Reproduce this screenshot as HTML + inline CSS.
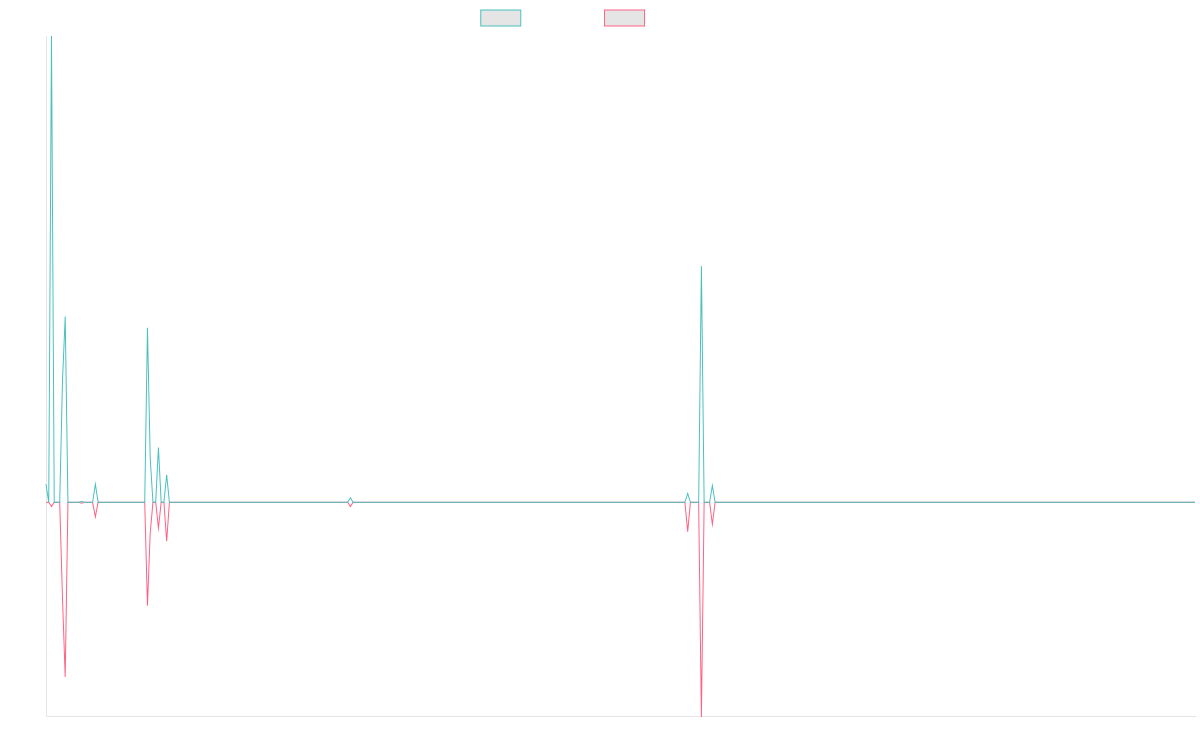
<!DOCTYPE html>
<html>
<head>
<meta charset="utf-8">
<title>Chart</title>
<style>
html, body { margin: 0; padding: 0; background: #ffffff; font-family: "Liberation Sans", sans-serif; }
body { width: 1200px; height: 750px; overflow: hidden; position: relative; }
svg { position: absolute; left: 0; top: 0; display: block; }
</style>
</head>
<body>
<svg width="1200" height="750" viewBox="0 0 1200 750">
  <defs>
    <clipPath id="area"><rect x="44" y="36" width="1153" height="681"/></clipPath>
  </defs>
  <!-- legend -->
  <rect x="480.75" y="10" width="40" height="16" fill="rgba(0,0,0,0.1)" stroke="rgb(75,192,192)" stroke-width="1"/>
  <rect x="604.55" y="10" width="40" height="16" fill="rgba(0,0,0,0.1)" stroke="rgb(255,99,132)" stroke-width="1"/>
  <!-- axes -->
  <rect x="46" y="36" width="1" height="680" fill="rgba(0,0,0,0.1)"/>
  <rect x="46" y="716" width="1150" height="1" fill="rgba(0,0,0,0.1)"/>
  <!-- datasets -->
  <g clip-path="url(#area)" fill="none" stroke-width="1.001" stroke-linejoin="miter" stroke-miterlimit="10" stroke-linecap="butt">
    <g stroke="rgb(255,99,132)">
      <rect x="46" y="501.8" width="2" height="1" fill="rgb(255,99,132)" stroke="none"/>
      <rect x="55" y="501.8" width="4" height="1" fill="rgb(255,99,132)" stroke="none"/>
      <rect x="69" y="501.8" width="9" height="1" fill="rgb(255,99,132)" stroke="none"/>
      <rect x="85" y="501.8" width="7" height="1" fill="rgb(255,99,132)" stroke="none"/>
      <rect x="99" y="501.8" width="45" height="1" fill="rgb(255,99,132)" stroke="none"/>
      <rect x="170" y="501.8" width="177" height="1" fill="rgb(255,99,132)" stroke="none"/>
      <rect x="354" y="501.8" width="330" height="1" fill="rgb(255,99,132)" stroke="none"/>
      <rect x="691" y="501.8" width="7" height="1" fill="rgb(255,99,132)" stroke="none"/>
      <rect x="705" y="501.8" width="4" height="1" fill="rgb(255,99,132)" stroke="none"/>
      <rect x="716" y="501.8" width="479" height="1" fill="rgb(255,99,132)" stroke="none"/>
      <polyline points="48,502.3 48.74,502.3 51.48,506.5 54.23,502.3 55,502.3"/>
      <polyline points="59,502.3 59.71,502.3 62.45,597 65.2,677 67.94,502.3 69,502.3"/>
      <polyline points="78,502.3 78.91,502.3 81.65,503.15 84.39,502.3 85,502.3"/>
      <polyline points="92,502.3 92.62,502.3 95.36,516.9 98.1,502.3 99,502.3"/>
      <polyline points="144,502.3 144.72,502.3 147.46,605.8 150.21,533 152.95,502.3 155.69,502.3 158.43,528.2 161.17,502.3 163.92,502.3 166.66,541.2 169.4,502.3 170,502.3"/>
      <polyline points="347,502.3 347.65,502.3 350.39,506.6 353.13,502.3 354,502.3"/>
      <polyline points="684,502.3 684.94,502.3 687.68,531.6 690.43,502.3 691,502.3"/>
      <polyline points="698,502.3 698.65,502.3 701.4,717 704.14,502.3 705,502.3"/>
      <polyline points="709,502.3 709.62,502.3 712.36,524.2 715.11,502.3 716,502.3"/>
    </g>
    <g stroke="rgb(75,192,192)">
      <rect x="55" y="501.8" width="4" height="1" fill="rgb(75,192,192)" stroke="none"/>
      <rect x="69" y="501.8" width="9" height="1" fill="rgb(75,192,192)" stroke="none"/>
      <rect x="85" y="501.8" width="7" height="1" fill="rgb(75,192,192)" stroke="none"/>
      <rect x="99" y="501.8" width="45" height="1" fill="rgb(75,192,192)" stroke="none"/>
      <rect x="170" y="501.8" width="177" height="1" fill="rgb(75,192,192)" stroke="none"/>
      <rect x="354" y="501.8" width="330" height="1" fill="rgb(75,192,192)" stroke="none"/>
      <rect x="691" y="501.8" width="7" height="1" fill="rgb(75,192,192)" stroke="none"/>
      <rect x="705" y="501.8" width="4" height="1" fill="rgb(75,192,192)" stroke="none"/>
      <rect x="716" y="501.8" width="479" height="1" fill="rgb(75,192,192)" stroke="none"/>
      <polyline points="46,484.2 48.74,502.3 51.48,36 54.23,502.3 55,502.3"/>
      <polyline points="59,502.3 59.71,502.3 62.45,382 65.2,316.5 67.94,502.3 69,502.3"/>
      <polyline points="78,502.3 78.91,502.3 81.65,501.55 84.39,502.3 85,502.3"/>
      <polyline points="92,502.3 92.62,502.3 95.36,484.1 98.1,502.3 99,502.3"/>
      <polyline points="144,502.3 144.72,502.3 147.46,327.7 150.21,458 152.95,502.3 155.69,502.3 158.43,447.5 161.17,502.3 163.92,502.3 166.66,474.7 169.4,502.3 170,502.3"/>
      <polyline points="347,502.3 347.65,502.3 350.39,497.9 353.13,502.3 354,502.3"/>
      <polyline points="684,502.3 684.94,502.3 687.68,493.45 690.43,502.3 691,502.3"/>
      <polyline points="698,502.3 698.65,502.3 701.4,266 704.14,502.3 705,502.3"/>
      <polyline points="709,502.3 709.62,502.3 712.36,485.65 715.11,502.3 716,502.3"/>
    </g>
  </g>
</svg>
</body>
</html>
